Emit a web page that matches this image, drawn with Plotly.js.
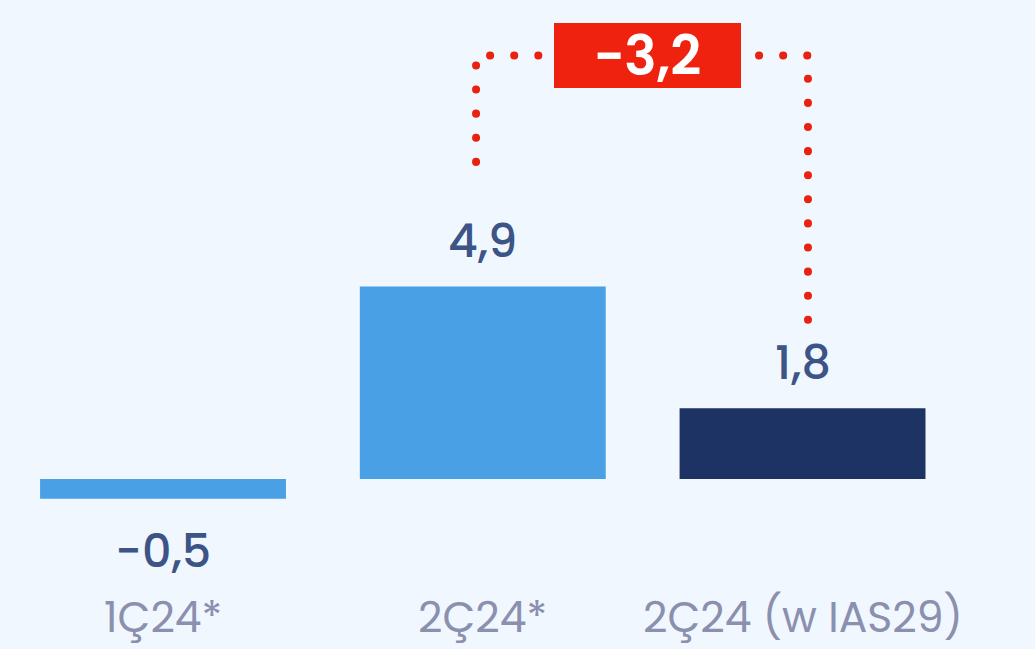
<!DOCTYPE html>
<html><head><meta charset="utf-8">
<script src="https://cdn.plot.ly/plotly-3.0.1.min.js"></script>
<style>html,body{margin:0;padding:0;background:#F0F7FE;}</style>
</head><body><div id="chart" style="width:1035px;height:649px;"></div>
<script>
const categories = ['1Ç24*', '2Ç24*', '2Ç24 (w IAS29)'];
const values = [-0.5, 4.9, 1.8];
const barColors = ['#49A0E5', '#49A0E5', '#1C3363'];
const deltaValue = -3.2;

const FONT = 'Poppins, Inter, "Noto Sans", sans-serif';
const fmt = v => (v < 0 ? '\u2212' : '') + Math.abs(v).toFixed(1).replace('.', ',');
const xIdx = categories.map((_, i) => i);

const bars = {
  type: 'bar', x: xIdx, y: values,
  marker: {color: barColors, line: {width: 0}},
  hoverinfo: 'skip', showlegend: false
};

const annotations = [];
values.forEach((v, i) => {
  annotations.push({
    x: i, y: v, xref: 'x', yref: 'y', text: fmt(v), showarrow: false,
    yanchor: 'middle', yshift: v >= 0 ? 45 : -52,
    font: {family: FONT, size: 46, color: '#3C5486', weight: 500}
  });
  annotations.push({
    x: i, y: 1 - 617 / 649, xref: 'x', yref: 'paper', text: categories[i], showarrow: false,
    yanchor: 'middle',
    font: {family: FONT, size: 42.5, color: '#8A90AE', weight: 400}
  });
});

// delta badge between bar 2 and bar 3
const topY = 10.78;
annotations.push({
  x: (xIdx[1] + xIdx[2]) / 2 + 0.015, y: topY, xref: 'x', yref: 'y',
  text: fmt(deltaValue), showarrow: false, width: 187, height: 65,
  bgcolor: '#EE220F', borderpad: 0, borderwidth: 0,
  xanchor: 'center', yanchor: 'middle',
  font: {family: FONT, size: 54, color: '#FFFFFF', weight: 600}
});

const dotLine = {color: '#E8220F', width: 8, dash: '0.1px,24px'};
const lx = xIdx[1] - 0.021, rx = xIdx[2] + 0.017;
const shapes = [
  {type: 'path', xref: 'x', yref: 'y',
   path: `M ${lx},${values[1] + 3.17} L ${lx},${topY} L ${lx + 0.2},${topY}`, line: dotLine},
  {type: 'path', xref: 'x', yref: 'y',
   path: `M ${rx},${values[2] + 2.25} L ${rx},${topY} L ${rx - 0.16},${topY}`, line: dotLine}
];

const layout = {
  width: 1035, height: 649,
  margin: {l: 0, r: 0, t: 0, b: 0},
  paper_bgcolor: '#F0F7FE', plot_bgcolor: '#F0F7FE',
  bargap: 0.231,
  xaxis: {range: [-0.5098, 2.727], visible: false, fixedrange: true},
  yaxis: {range: [-4.326, 12.19], visible: false, fixedrange: true},
  annotations: annotations, shapes: shapes,
  font: {family: FONT}
};

function roundDots() {
  document.querySelectorAll('#chart .shapelayer path').forEach(p => {
    p.style.strokeLinecap = 'round';
  });
}
const gd = document.getElementById('chart');
Plotly.newPlot(gd, [bars], layout, {displayModeBar: false, staticPlot: true}).then(() => {
  roundDots();
  gd.on('plotly_afterplot', roundDots);
});
</script></body></html>
